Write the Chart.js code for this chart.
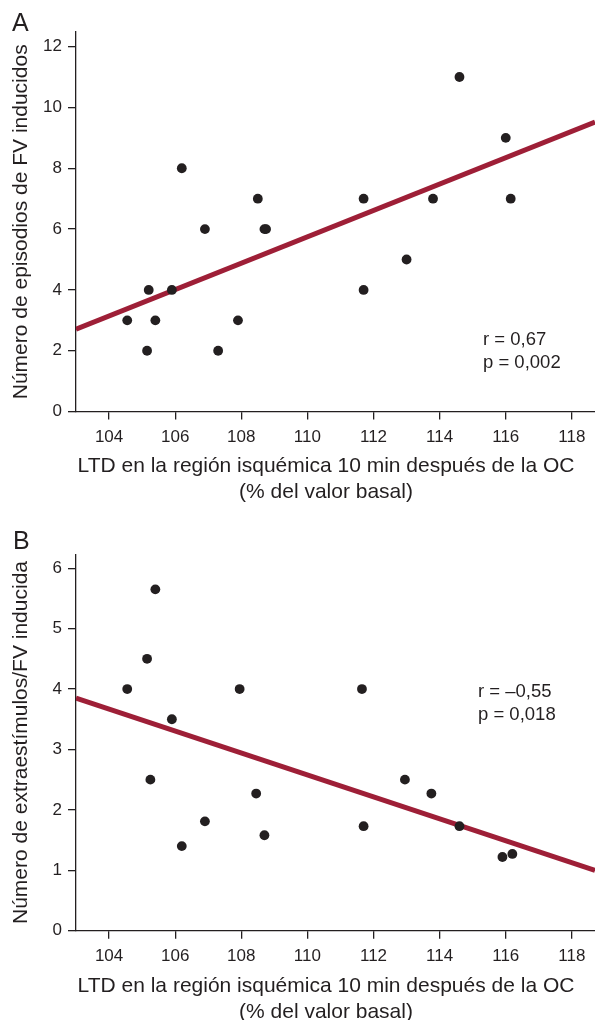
<!DOCTYPE html>
<html>
<head>
<meta charset="utf-8">
<script src="https://cdn.jsdelivr.net/npm/chart.js@4.4.1/dist/chart.umd.min.js"></script>
<style>
  html, body { margin: 0; padding: 0; background: #fff; overflow: hidden; }
  #wrap { position: relative; width: 595px; height: 1020px; overflow: hidden; }
  canvas { position: absolute; left: 0; }
  .lbl { position: absolute; font-family: 'Liberation Sans', Arial, sans-serif; color: #231f20; white-space: nowrap; }
  .panel { font-size: 25px; line-height: 1; }
  .stat { font-size: 18.5px; line-height: 23px; }
  .xt { left: 0; width: 652px; text-align: center; font-size: 21px; line-height: 25.5px; }
</style>
</head>
<body>
<div id="wrap">
  <canvas id="chartA" width="595" height="520" style="top:0"></canvas>
  <canvas id="chartB" width="595" height="520" style="top:520px"></canvas>
  <div class="lbl panel" style="left:12px; top:10px">A</div>
  <div class="lbl panel" style="left:13px; top:528px">B</div>
  <div class="lbl stat" style="left:483px; top:327px">r = 0,67<br>p = 0,002</div>
  <div class="lbl stat" style="left:478px; top:679px">r = –0,55<br>p = 0,018</div>
  <div class="lbl xt" style="top:452px">LTD en la región isquémica 10 min después de la OC<br>(% del valor basal)</div>
  <div class="lbl xt" style="top:972px">LTD en la región isquémica 10 min después de la OC<br>(% del valor basal)</div>
</div>
<script>
// tick labels
const xTicks = [104, 106, 108, 110, 112, 114, 116, 118];
const aTicks = [0, 2, 4, 6, 8, 10, 12];
const bTicks = [0, 1, 2, 3, 4, 5, 6];

// A: episodios de FV inducidos
const aX = [104.55, 105.15, 105.2, 105.4, 105.9, 106.2, 106.9, 107.3, 107.9, 108.5, 108.7, 108.75, 111.7, 111.7, 113.0, 113.8, 114.6, 116.0, 116.15];
const aY = [3, 2, 4, 3, 4, 8, 6, 2, 3, 7, 6, 6, 7, 4, 5, 7, 11, 9, 7];
const aFitX = [103, 118.7];
const aFitY = [2.71, 9.52];

// B: extraestimulos/FV inducida
const bX = [104.55, 105.15, 105.25, 105.4, 105.9, 106.2, 106.9, 107.95, 108.45, 108.7, 111.65, 111.7, 112.95, 113.75, 114.6, 115.9, 116.2];
const bY = [4, 4.5, 2.5, 5.65, 3.5, 1.4, 1.81, 4, 2.27, 1.58, 4, 1.73, 2.5, 2.27, 1.73, 1.22, 1.27];
const bFitX = [103, 118.7];
const bFitY = [3.85, 1.0];

const ink = '#231f20';
const red = '#9e1f37';
const fam = "'Liberation Sans', Arial, sans-serif";

function pairs(xs, ys) {
    return xs.map((x, i) => ({ x: x, y: ys[i] }));
}

function makeChart(id, o) {
    return new Chart(document.getElementById(id), {
        type: 'scatter',
        data: {
            datasets: [{
                data: pairs(o.xs, o.ys),
                backgroundColor: ink,
                borderWidth: 0,
                pointRadius: 4.9,
                order: 0
            }, {
                type: 'line',
                data: pairs(o.fitX, o.fitY),
                borderColor: red,
                borderWidth: 5,
                pointRadius: 0,
                fill: false,
                order: 1
            }]
        },
        options: {
            responsive: false,
            animation: false,
            devicePixelRatio: 1,
            layout: { autoPadding: false, padding: { top: o.top, left: 0, right: 0, bottom: 0 } },
            plugins: { legend: { display: false }, tooltip: { enabled: false } },
            scales: {
                x: {
                    type: 'linear',
                    min: 103,
                    max: 118.7,
                    afterBuildTicks: s => { s.ticks = xTicks.map(v => ({ value: v })); },
                    afterFit: s => {
                        s.height = 520 - o.bottom;
                        s.paddingLeft = 0;
                        s.paddingRight = 0;
                    },
                    grid: { drawOnChartArea: false, tickLength: 8, color: ink, lineWidth: 1.3 },
                    border: { color: ink, width: 1.3 },
                    ticks: { color: ink, padding: 7.5, font: { family: fam, size: 17 } }
                },
                y: {
                    type: 'linear',
                    min: 0,
                    max: o.ymax,
                    afterBuildTicks: s => { s.ticks = o.yTicks.map(v => ({ value: v })); },
                    afterFit: s => {
                        s.width = 76;
                        s.paddingTop = 0;
                        s.paddingBottom = 0;
                    },
                    grid: { drawOnChartArea: false, tickLength: 8, color: ink, lineWidth: 1.3 },
                    border: { color: ink, width: 1.3 },
                    ticks: { color: ink, padding: 6, font: { family: fam, size: 17 } },
                    title: {
                        display: true,
                        text: o.ytitle,
                        color: ink,
                        font: { family: fam, size: 21, lineHeight: 1.2 },
                        padding: { top: 8.4, bottom: 0 }
                    }
                }
            }
        }
    });
}

makeChart('chartA', {
    xs: aX, ys: aY, fitX: aFitX, fitY: aFitY,
    yTicks: aTicks, ymax: 12.48,
    top: 32, bottom: 411.6,
    ytitle: 'Número de episodios de FV inducidos'
});

makeChart('chartB', {
    xs: bX, ys: bY, fitX: bFitX, fitY: bFitY,
    yTicks: bTicks, ymax: 6.23,
    top: 34.3, bottom: 410.7,
    ytitle: 'Número de extraestímulos/FV inducida'
});
</script>
</body>
</html>
